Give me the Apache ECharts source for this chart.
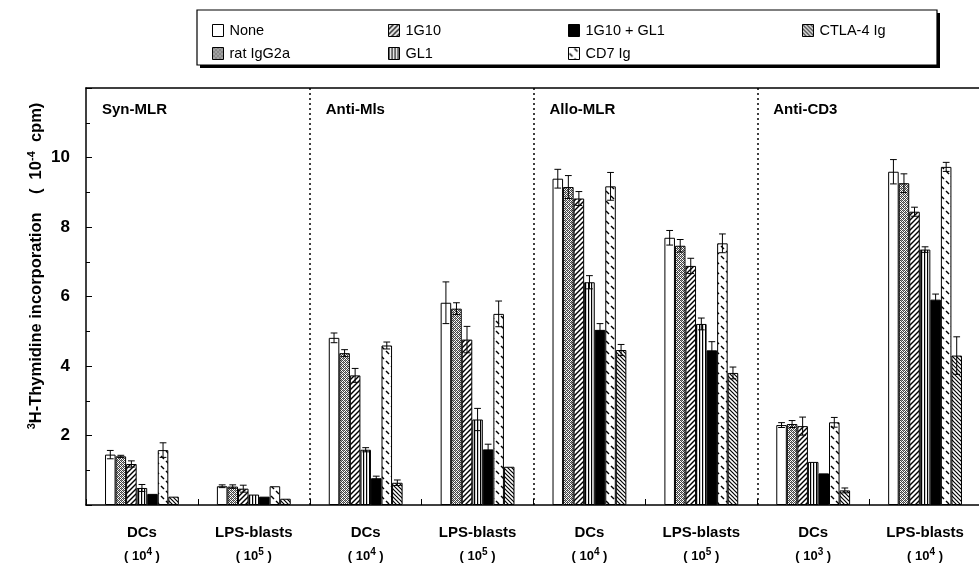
<!DOCTYPE html>
<html><head><meta charset="utf-8">
<script src="https://cdn.jsdelivr.net/npm/echarts@6/dist/echarts.min.js"></script>
<style>html,body{margin:0;padding:0;background:#fff;overflow:hidden}#main{width:984px;height:574px}</style>
</head><body><div id="main"></div>
<script>
// ---- data ----
const categories = ['DCs','LPS-blasts','DCs','LPS-blasts','DCs','LPS-blasts','DCs','LPS-blasts'];
const cellExponents = ['4','5','4','5','4','5','3','4'];
const panelTitles = ['Syn-MLR','Anti-Mls','Allo-MLR','Anti-CD3'];
const seriesNames = ['None','rat IgG2a','1G10','GL1','1G10 + GL1','CD7 Ig','CTLA-4 Ig'];
const yTicks = [2,4,6,8,10];

const valNone   = [1.45, 0.54, 4.81, 5.82, 9.39, 7.69, 2.30, 9.59];
const valRat    = [1.40, 0.53, 4.37, 5.65, 9.15, 7.46, 2.33, 9.26];
const val1G10   = [1.18, 0.47, 3.73, 4.76, 8.82, 6.88, 2.27, 8.44];
const valGL1    = [0.49, 0.30, 1.59, 2.46, 6.41, 5.21, 1.24, 7.35];
const valBoth   = [0.32, 0.24, 0.77, 1.60, 5.04, 4.45, 0.91, 5.91];
const valCD7    = [1.58, 0.54, 4.59, 5.50, 9.17, 7.53, 2.38, 9.73];
const valCTLA4  = [0.24, 0.18, 0.64, 1.10, 4.46, 3.80, 0.42, 4.30];

const errNone   = [0.12, 0.04, 0.14, 0.60, 0.27, 0.21, 0.07, 0.35];
const errRat    = [0.03, 0.05, 0.10, 0.17, 0.33, 0.18, 0.10, 0.27];
const err1G10   = [0.09, 0.10, 0.20, 0.38, 0.20, 0.22, 0.26, 0.13];
const errGL1    = [0.10, 0.00, 0.06, 0.32, 0.19, 0.17, 0.00, 0.08];
const errBoth   = [0.00, 0.00, 0.06, 0.15, 0.18, 0.25, 0.00, 0.16];
const errCD7    = [0.21, 0.00, 0.10, 0.37, 0.40, 0.27, 0.14, 0.13];
const errCTLA4  = [0.00, 0.00, 0.08, 0.00, 0.16, 0.17, 0.07, 0.54];

const allVals = [valNone, valRat, val1G10, valGL1, valBoth, valCD7, valCTLA4];
const allErrs = [errNone, errRat, err1G10, errGL1, errBoth, errCD7, errCTLA4];

// ---- patterns ----
function pat(w, h, draw) {
  const c = document.createElement('canvas'); c.width = w; c.height = h;
  const g = c.getContext('2d');
  g.fillStyle = '#fff'; g.fillRect(0, 0, w, h);
  g.fillStyle = '#000'; g.strokeStyle = '#000';
  draw(g, w, h);
  return { image: c, repeat: 'repeat' };
}
function line(g, x1, y1, x2, y2, lw) { g.lineWidth = lw; g.beginPath(); g.moveTo(x1, y1); g.lineTo(x2, y2); g.stroke(); }
const patterns = [
  '#ffffff',
  pat(4, 4, (g) => { g.fillStyle = '#444'; for (let y = 0; y < 4; y++) for (let x = 0; x < 4; x++) if ((x + y) % 2 === 0) g.fillRect(x, y, 1, 1); g.fillStyle='#999'; g.fillRect(1,0,1,1); g.fillRect(3,2,1,1); }),
  pat(5, 5, (g) => { line(g, -1, 6, 6, -1, 1.4); line(g, -1, 1, 1, -1, 1.4); line(g, 4, 6, 6, 4, 1.4); }),
  pat(3, 3, (g) => { g.fillRect(0, 0, 1.2, 3); }),
  '#000000',
  pat(10, 10, (g) => { line(g, 6, 1, 9, 4, 1.4); line(g, 1, 6, 4, 9, 1.4); }),
  pat(4, 4, (g) => { line(g, -1, -1, 5, 5, 1.2); line(g, 3, -1, 5, 1, 1.2); line(g, -1, 3, 1, 5, 1.2); })
];

const CAT_GAP = 0.34;
const FONT = 'Liberation Sans, Arial, Helvetica, sans-serif';

const chart = echarts.init(document.getElementById('main'));

const barSeries = seriesNames.map((name, i) => ({
  name, type: 'bar', data: allVals[i], xAxisIndex: 0,
  barGap: 0, barCategoryGap: (CAT_GAP * 100) + '%',
  itemStyle: { color: patterns[i], borderColor: '#000', borderWidth: 1 },
  emphasis: { disabled: true }, z: 2
}));

const errData = [];
allVals.forEach((vals, s) => vals.forEach((v, c) => { if (allErrs[s][c] > 0) errData.push([c, s, v, allErrs[s][c]]); }));

const errSeries = {
  type: 'custom', name: 'err', data: errData, z: 5, silent: true, xAxisIndex: 0,
  encode: { x: 0, y: 2 },
  renderItem: (params, api) => {
    const c = api.value(0), s = api.value(1), v = api.value(2), e = api.value(3);
    const catW = api.size([1, 0])[0];
    const bw = catW * (1 - CAT_GAP) / seriesNames.length;
    const x = api.coord([c, v])[0] + (s - (seriesNames.length - 1) / 2) * bw;
    const yt = api.coord([c, v + e])[1];
    const yb = api.coord([c, Math.max(v - e, 0)])[1];
    const hw = bw * 0.32;
    const st = { stroke: '#000', lineWidth: 1 };
    return { type: 'group', children: [
      { type: 'line', shape: { x1: x, y1: yt, x2: x, y2: yb }, style: st },
      { type: 'line', shape: { x1: x - hw, y1: yt, x2: x + hw, y2: yt }, style: st },
      { type: 'line', shape: { x1: x - hw, y1: yb, x2: x + hw, y2: yb }, style: st }
    ]};
  }
};

// legend layout (columns filled top-to-bottom)
const legendPos = [[207, 18], [207, 41], [383, 18], [383, 41], [563, 18], [563, 41], [797, 18]];
const legends = seriesNames.map((name, i) => ({
  left: legendPos[i][0], top: legendPos[i][1], orient: 'horizontal',
  data: [{ name, itemStyle: { color: patterns[i], borderColor: '#000', borderWidth: 1 } }],
  icon: 'rect', itemWidth: 11, itemHeight: 12, itemGap: 6,
  textStyle: { fontFamily: FONT, fontSize: 14.5, color: '#000', padding: [0, 0, 0, 1] },
  selectedMode: false
}));

chart.setOption({
  animation: false,
  backgroundColor: '#fff',
  grid: { left: 86, width: 895, top: 88, bottom: 69, show: false },
  legend: legends,
  xAxis: [{
    type: 'category', data: categories, position: 'bottom',
    axisLine: { lineStyle: { color: '#000', width: 1.5 } },
    axisTick: { show: true, inside: true, length: 6, lineStyle: { color: '#000' } },
    splitLine: { show: true, interval: (i) => i === 2 || i === 4 || i === 6, lineStyle: { color: '#000', type: [2, 3], width: 1.5 } },
    axisLabel: {
      margin: 14, interval: 0,
      formatter: (v, i) => '{a|' + v + '}\n{b|( 10}{sup|' + cellExponents[i] + '}{b| )}',
      rich: {
        a: { fontFamily: FONT, fontWeight: 'bold', fontSize: 15, color: '#000', lineHeight: 28 },
        b: { fontFamily: FONT, fontWeight: 'bold', fontSize: 13, color: '#000', lineHeight: 18 },
        sup: { fontFamily: FONT, fontWeight: 'bold', fontSize: 10, color: '#000', lineHeight: 10, verticalAlign: 'top' }
      }
    }
  }, {
    type: 'category', data: categories, position: 'top',
    axisLine: { show: true, lineStyle: { color: '#000', width: 1.5 } },
    axisTick: { show: false }, axisLabel: { show: false }, splitLine: { show: false }
  }],
  yAxis: {
    type: 'value', min: 0, max: 12, interval: 2,
    axisLine: { show: true, lineStyle: { color: '#000', width: 1.5 } },
    axisTick: { show: true, inside: true, length: 6, lineStyle: { color: '#000' } },
    minorTick: { show: true, splitNumber: 2, length: 4, lineStyle: { color: '#000' } },
    splitLine: { show: false },
    axisLabel: { margin: 16, fontFamily: FONT, fontWeight: 'bold', fontSize: 17, color: '#000',
      formatter: (v) => yTicks.indexOf(v) >= 0 ? String(v) : '' }
  },
  series: barSeries.concat([errSeries])
});

// panel titles, y-axis title and legend frame
const gridRect = chart.getModel().getComponent('grid').coordinateSystem.getRect();
const catW = gridRect.width / categories.length;
const graphics = [
  { type: 'rect', z: -10, shape: { x: 200, y: 13, width: 740, height: 55 }, style: { fill: '#000' } },
  { type: 'rect', z: -9, shape: { x: 197, y: 10, width: 740, height: 55 }, style: { fill: '#fff', stroke: '#000', lineWidth: 1.2 } },
  { type: 'text', z: 10, x: 36, y: 266, rotation: Math.PI / 2,
    style: { text: '{s|3}{t|H-Thymidine incorporation    (  10}{s|-4}{t|  cpm)}', align: 'center', verticalAlign: 'middle',
      rich: {
        t: { fontFamily: FONT, fontWeight: 'bold', fontSize: 16.5, fill: '#000', lineHeight: 20 },
        s: { fontFamily: FONT, fontWeight: 'bold', fontSize: 11, fill: '#000', lineHeight: 12, verticalAlign: 'top' }
      } } }
];
panelTitles.forEach((t, p) => {
  graphics.push({ type: 'text', z: 10, left: gridRect.x + p * 2 * catW + 16, top: 102,
    style: { text: t, fontFamily: FONT, fontWeight: 'bold', fontSize: 15, fill: '#000' } });
});
chart.setOption({ graphic: graphics });
</script></body></html>
